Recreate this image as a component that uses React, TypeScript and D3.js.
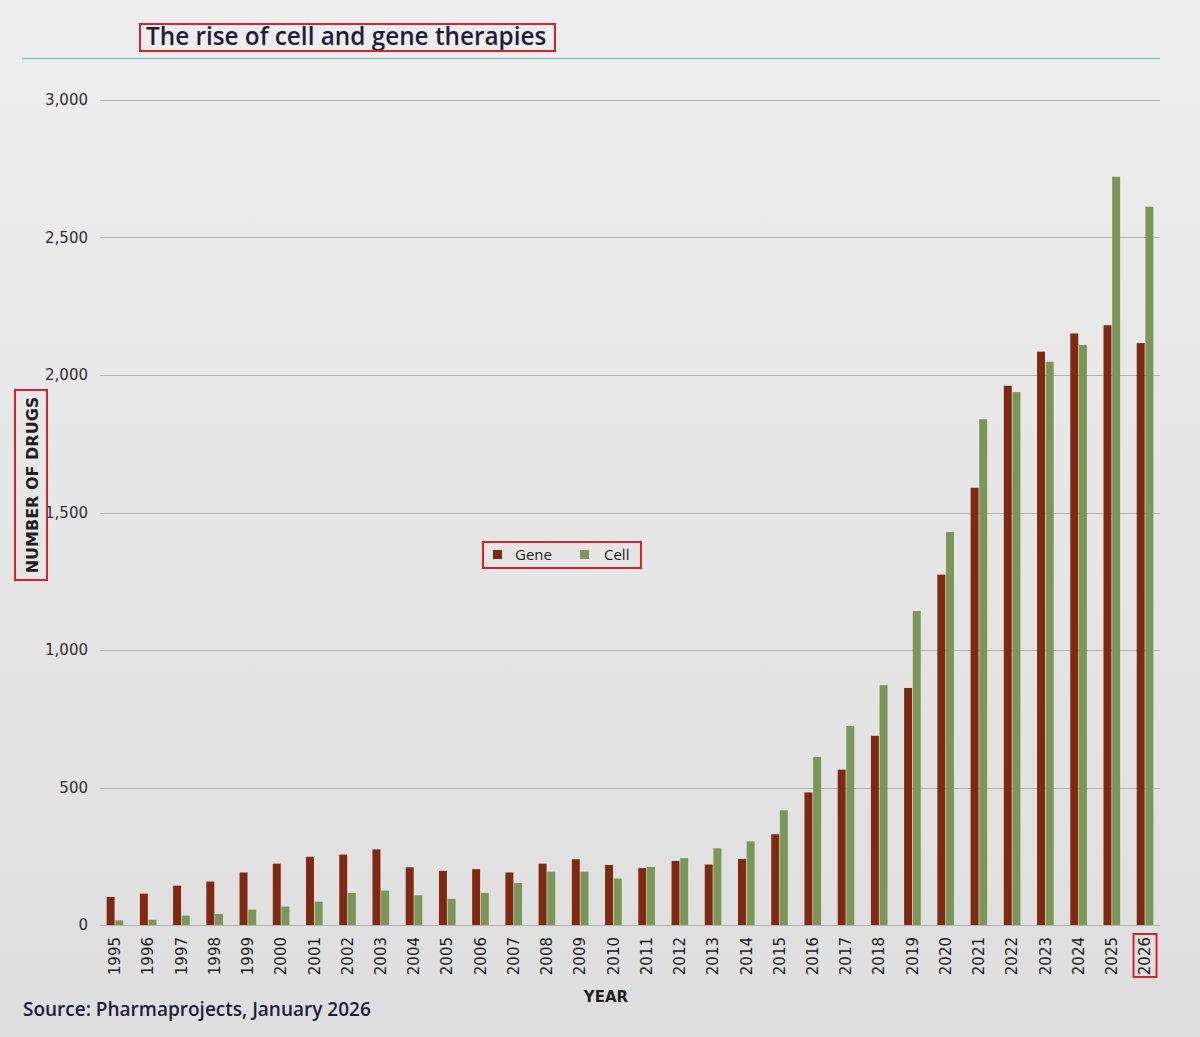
import React from 'react';
import * as d3 from 'd3';

// Pharmaprojects counts of gene and cell therapies in development, by year
const years = [
  '1995', '1996', '1997', '1998', '1999', '2000', '2001', '2002', '2003', '2004', '2005',
  '2006', '2007', '2008', '2009', '2010', '2011', '2012', '2013', '2014', '2015', '2016',
  '2017', '2018', '2019', '2020', '2021', '2022', '2023', '2024', '2025', '2026',
];
const geneCounts = [
  102, 114, 143, 158, 191, 223, 248, 256, 275, 210, 197, 203, 191, 223, 239, 218,
  207, 233, 220, 240, 330, 482, 565, 688, 862, 1274, 1590, 1961, 2085, 2151, 2181, 2116,
];
const cellCounts = [
  17, 19, 34, 40, 56, 67, 85, 117, 125, 108, 95, 117, 153, 194, 194, 169,
  211, 243, 279, 304, 417, 611, 724, 872, 1142, 1429, 1839, 1938, 2048, 2109, 2721, 2612,
];
const seriesNames = ['Gene', 'Cell'];
const yTicks = [0, 500, 1000, 1500, 2000, 2500, 3000];

const W = 1200;
const H = 1037;
const plot = { left: 100, right: 1160, top: 100, bottom: 925 };
const colors: Record<string, string> = { Gene: '#7f2913', Cell: '#7b9757' };
const boxRed = '#d8232f';
const ink = '#1d1d3b';

const App = () => {
  const x = d3.scaleBand<string>()
    .domain(years)
    .range([plot.left, plot.right])
    .paddingInner(0.5)
    .paddingOuter(0.2);

  const xSeries = d3.scaleBand<string>()
    .domain(seriesNames)
    .range([0, x.bandwidth()])
    .paddingInner(0.08);

  const y = d3.scaleLinear()
    .domain([0, 3000])
    .range([plot.bottom, plot.top]);

  const fmt = d3.format(',');
  const rows = years.map((yr, i) => ({ year: yr, Gene: geneCounts[i], Cell: cellCounts[i] }));

  const lastX = (x('2026') ?? 0) + x.bandwidth() / 2;

  return (
    <svg
      width={W}
      height={H}
      style={{ position: 'absolute', left: 0, top: 0, display: 'block' }}
      fontFamily="'Open Sans', sans-serif"
    >
      <defs>
        <linearGradient id="bg" x1="0" y1="0" x2="0" y2="1">
          <stop offset="0" stopColor="#eeeeee" />
          <stop offset="1" stopColor="#dedede" />
        </linearGradient>
      </defs>
      <rect width={W} height={H} fill="url(#bg)" />

      {/* title */}
      <text x={146} y={45} fontSize={24.3} fontWeight={600} fill={ink}>
        The rise of cell and gene therapies
      </text>
      <rect x={140} y={24} width={415} height={27} fill="none" stroke={boxRed} strokeWidth={2} />
      <line x1={22} x2={1160} y1={58.5} y2={58.5} stroke="#86c0c4" strokeWidth={1.5} />

      {/* gridlines and y axis */}
      <g>
        {yTicks.map(t => (
          <g key={t}>
            <line
              x1={plot.left}
              x2={plot.right}
              y1={Math.round(y(t)) + 0.5}
              y2={Math.round(y(t)) + 0.5}
              stroke="#b3b3b3"
              strokeWidth={1}
            />
            <text
              x={88}
              y={y(t)}
              dy="0.35em"
              textAnchor="end"
              fontSize={15}
              fontFamily="'DejaVu Sans', sans-serif"
              fill="#2e2e2e"
            >
              {fmt(t)}
            </text>
          </g>
        ))}
      </g>

      {/* bars */}
      <g>
        {rows.map(r => (
          <g key={r.year} transform={`translate(${x(r.year)},0)`}>
            {seriesNames.map(s => (
              <rect
                key={s}
                x={xSeries(s)}
                y={y(r[s as 'Gene' | 'Cell'])}
                width={xSeries.bandwidth()}
                height={y(0) - y(r[s as 'Gene' | 'Cell'])}
                fill={colors[s]}
              />
            ))}
          </g>
        ))}
      </g>

      {/* x axis labels */}
      <g>
        {years.map(yr => {
          const cx = (x(yr) ?? 0) + x.bandwidth() / 2;
          return (
            <text
              key={yr}
              transform={`translate(${cx},937) rotate(-90)`}
              dy="0.35em"
              textAnchor="end"
              fontSize={15}
              fontFamily="'DejaVu Sans', sans-serif"
              fill="#1e1e1e"
            >
              {yr}
            </text>
          );
        })}
      </g>
      <rect x={lastX - 11.5} y={934} width={23} height={43} fill="none" stroke={boxRed} strokeWidth={2} />

      <text x={606} y={1002} textAnchor="middle" fontSize={15} fontWeight={700}
        fontFamily="'DejaVu Sans', sans-serif" fill="#1e1e1e">
        YEAR
      </text>

      {/* y axis title */}
      <text
        transform="translate(32,485) rotate(-90)"
        dy="0.35em"
        textAnchor="middle"
        fontSize={16}
        fontWeight={700}
        fontFamily="'DejaVu Sans', sans-serif"
        fill="#1e1e1e"
      >
        NUMBER OF DRUGS
      </text>
      <rect x={15} y={390} width={32} height={190} fill="none" stroke={boxRed} strokeWidth={2} />

      {/* legend */}
      <g>
        <rect x={483} y={542} width={158} height={26} fill="none" stroke={boxRed} strokeWidth={2} />
        {seriesNames.map((s, i) => (
          <g key={s} transform={`translate(${493 + i * 87},555)`}>
            <rect x={0} y={-5} width={9} height={9} fill={colors[s]} />
            <text x={i === 0 ? 22 : 24} dy="0.35em" fontSize={15} fill="#1e1e1e">{s}</text>
          </g>
        ))}
      </g>

      {/* source */}
      <text x={23} y={1016} fontSize={19} fontWeight={600} fill={ink}>
        Source: Pharmaprojects, January 2026
      </text>
    </svg>
  );
};

export default App;
